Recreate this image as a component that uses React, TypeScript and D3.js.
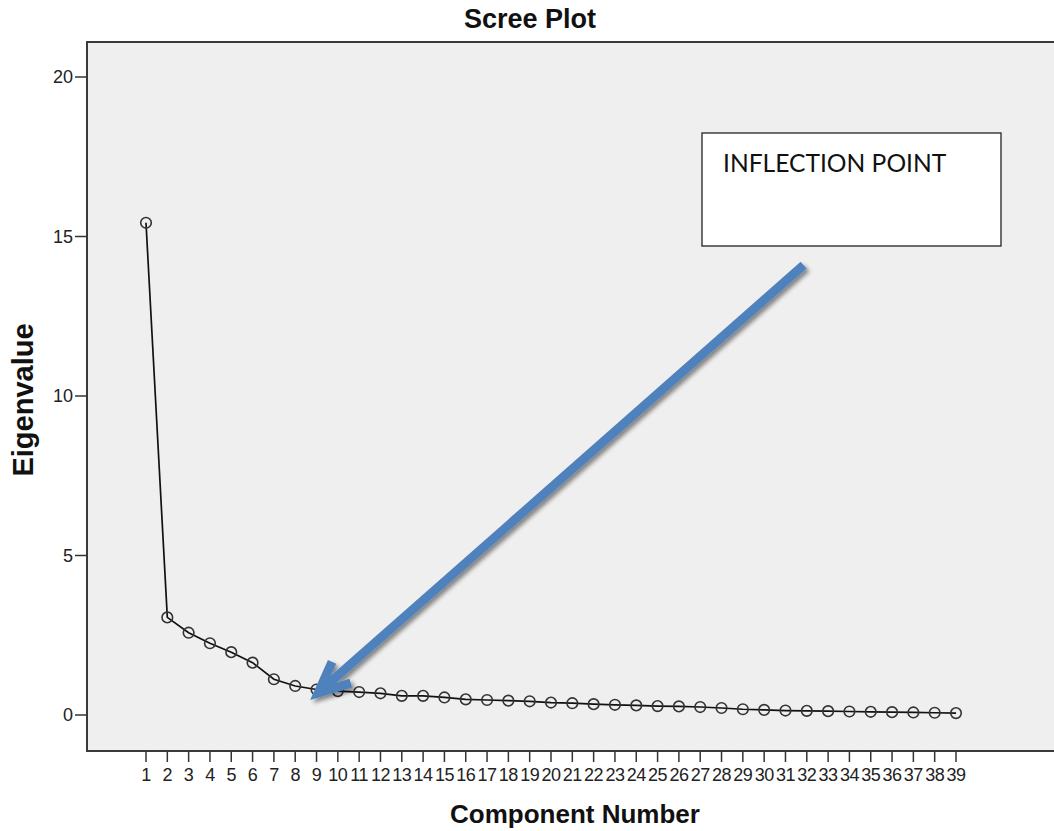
import React from "react";
import * as d3 from "d3";

// Eigenvalues for components 1..39
const components: number[] = Array.from({ length: 39 }, (_, i) => i + 1);
const eigenvalues: number[] = [
  15.43, 3.06, 2.58, 2.25, 1.97, 1.64, 1.12, 0.91, 0.8, 0.75,
  0.72, 0.68, 0.6, 0.6, 0.55, 0.49, 0.47, 0.45, 0.43, 0.39,
  0.37, 0.34, 0.32, 0.3, 0.28, 0.27, 0.25, 0.22, 0.18, 0.16,
  0.14, 0.13, 0.12, 0.11, 0.1, 0.09, 0.08, 0.07, 0.06,
];
const yTicks: number[] = [0, 5, 10, 15, 20];

// Annotation arrow in data coordinates (component, eigenvalue)
const arrowStart: [number, number] = [31.85, 14.1];
const arrowTip: [number, number] = [8.7, 0.47];
const calloutText = "INFLECTION POINT";

const W = 1054;
const H = 831;
const frame = { left: 87, top: 42, right: 1062, bottom: 751 };

export default function App() {
  const x = d3.scaleLinear().domain([1, 39]).range([146, 956]);
  const y = d3.scaleLinear().domain([0, 20]).range([715, 77]);

  const line = d3
    .line<number>()
    .x((_, i) => x(components[i]))
    .y((d) => y(d));

  const sx = x(arrowStart[0]);
  const sy = y(arrowStart[1]);
  const px = x(arrowTip[0]);
  const py = y(arrowTip[1]);
  // chevron head: two wings rotated off the shaft direction
  const sw = 9;
  const ang = Math.atan2(sy - py, sx - px);
  const spread = 0.43;
  // pull the vertex back so the mitred outer point lands on the tip
  const back = sw / 2 / Math.sin(spread);
  const tx = px + back * Math.cos(ang);
  const ty = py + back * Math.sin(ang);
  const headLen = 34;
  const w1 = [tx + headLen * Math.cos(ang - spread), ty + headLen * Math.sin(ang - spread)];
  const w2 = [tx + headLen * Math.cos(ang + spread), ty + headLen * Math.sin(ang + spread)];
  const headPath = `M${w1[0]},${w1[1]}L${tx},${ty}L${w2[0]},${w2[1]}`;
  const shaftPath = `M${sx},${sy}L${tx + 4 * Math.cos(ang)},${ty + 4 * Math.sin(ang)}`;

  const sans = "'Liberation Sans', Arial, sans-serif";

  return (
    <svg
      width={W}
      height={H}
      style={{ position: "absolute", left: 0, top: 0, background: "#fff" }}
    >
      <defs>
        <filter id="arrowShadow" x="-10%" y="-10%" width="130%" height="130%">
          <feGaussianBlur in="SourceAlpha" stdDeviation="2" />
          <feOffset dx="2.5" dy="3" result="off" />
          <feComponentTransfer>
            <feFuncA type="linear" slope="0.45" />
          </feComponentTransfer>
          <feMerge>
            <feMergeNode />
            <feMergeNode in="SourceGraphic" />
          </feMerge>
        </filter>
      </defs>

      {/* plot background and frame */}
      <rect
        x={frame.left}
        y={frame.top}
        width={frame.right - frame.left}
        height={frame.bottom - frame.top}
        fill="#efefef"
      />
      <path
        d={`M${frame.right},${frame.top}H${frame.left}V${frame.bottom}H${frame.right}`}
        fill="none"
        stroke="#3a3a3a"
        strokeWidth={2}
      />

      {/* y axis */}
      {yTicks.map((t) => (
        <g key={`y${t}`}>
          <line x1={75} x2={frame.left} y1={y(t)} y2={y(t)} stroke="#333" strokeWidth={1.5} />
          <text
            x={73}
            y={y(t)}
            dy="0.36em"
            textAnchor="end"
            fontFamily={sans}
            fontSize={18}
            fill="#222"
          >
            {t}
          </text>
        </g>
      ))}

      {/* x axis */}
      {components.map((c) => (
        <g key={`x${c}`}>
          <line x1={x(c)} x2={x(c)} y1={frame.bottom} y2={762} stroke="#333" strokeWidth={1.5} />
          <text
            x={x(c)}
            y={781}
            textAnchor="middle"
            fontFamily={sans}
            fontSize={18}
            letterSpacing={-0.5}
            fill="#222"
          >
            {c}
          </text>
        </g>
      ))}

      {/* scree line and markers */}
      <path d={line(eigenvalues) ?? ""} fill="none" stroke="#111" strokeWidth={1.7} />
      {eigenvalues.map((v, i) => (
        <circle
          key={`p${i}`}
          cx={x(components[i])}
          cy={y(v)}
          r={5.3}
          fill="none"
          stroke="#333"
          strokeWidth={1.6}
        />
      ))}

      {/* titles */}
      <text x={530} y={28} textAnchor="middle" fontFamily={sans} fontWeight="bold" fontSize={27} fill="#111">
        Scree Plot
      </text>
      <text x={575} y={823} textAnchor="middle" fontFamily={sans} fontWeight="bold" fontSize={26} fill="#111">
        Component Number
      </text>
      <text
        transform={`translate(33,400) rotate(-90)`}
        textAnchor="middle"
        fontFamily={sans}
        fontWeight="bold"
        fontSize={29}
        fill="#111"
      >
        Eigenvalue
      </text>

      {/* callout box */}
      <rect x={702} y={133} width={299} height={113} fill="#fff" stroke="#222" strokeWidth={1.3} />
      <text x={723} y={172} fontFamily="Lato, 'Open Sans', sans-serif" fontSize={24.6} fill="#111">
        {calloutText}
      </text>

      {/* arrow */}
      <g filter="url(#arrowShadow)">
        <path d={shaftPath} stroke="#4f81bd" strokeWidth={sw} fill="none" strokeLinecap="butt" />
        <path
          d={headPath}
          stroke="#4f81bd"
          strokeWidth={sw}
          fill="none"
          strokeLinejoin="miter"
          strokeMiterlimit={10}
          strokeLinecap="butt"
        />
      </g>
    </svg>
  );
}
